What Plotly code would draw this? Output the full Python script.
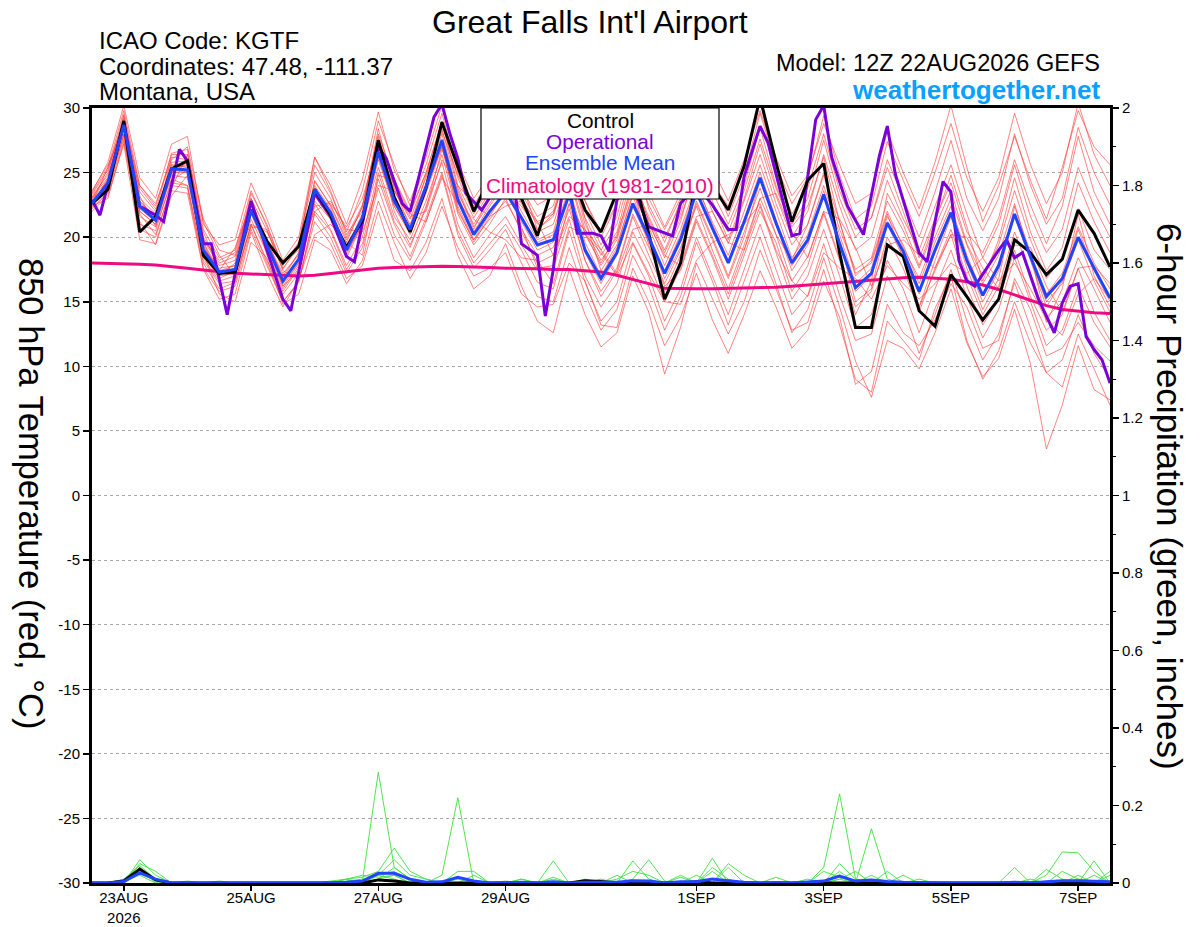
import pandas as pd
import plotly.graph_objects as go

# ---------------------------------------------------------------- data
RUN_START = "2026-08-22 12:00"
HOURS6 = list(range(0, 385, 6))          # 6-hourly forecast hours (65)

# Control run 850 hPa temperature (C), 6-hourly
CONTROL_T = [
    22.6, 23.7, 29.0, 20.4,
    21.6, 25.3, 25.9, 18.6,
    17.2, 17.3, 22.1, 19.7,
    18.0, 19.3, 23.7, 21.7,
    19.2, 21.3, 27.5, 23.1,
    20.4, 23.8, 28.9, 25.5,
    22.0, 24.5, 26.0, 23.0,
    20.1, 24.0, 25.5, 22.1,
    20.4, 23.5, 25.0, 20.3,
    15.2, 18.0, 24.5, 24.0,
    22.1, 25.5, 30.8, 25.8,
    21.2, 24.4, 25.7, 18.8,
    13.0, 13.0, 19.4, 18.5,
    14.3, 13.1, 17.1, 15.4,
    13.6, 15.2, 19.8, 18.8,
    17.1, 18.3, 22.1, 20.3,
    17.7,
]

# Ensemble mean 850 hPa temperature (C), 6-hourly
MEAN_T = [
    22.6, 24.2, 28.7, 22.4,
    21.3, 25.3, 25.2, 19.0,
    17.3, 17.5, 22.1, 19.3,
    16.6, 18.3, 23.7, 21.9,
    19.0, 21.5, 26.6, 22.8,
    20.6, 23.9, 27.5, 22.9,
    20.2, 22.0, 23.5, 21.5,
    19.4, 19.8, 23.3, 19.0,
    16.8, 18.8, 22.6, 20.0,
    17.2, 19.8, 23.5, 20.7,
    18.0, 21.2, 24.6, 21.1,
    18.0, 19.8, 23.3, 19.5,
    16.1, 17.2, 21.1, 18.9,
    15.8, 19.0, 21.9, 18.2,
    15.5, 17.8, 21.8, 18.5,
    15.4, 16.8, 20.0, 17.6,
    15.3,
]

# Operational run (3-hourly where it bends)
OP_HOURS = [
    0, 3, 12, 18, 24, 27, 33, 36, 42, 45,
    51, 54, 60, 72, 75, 84, 90, 96, 99, 108,
    111, 117, 120, 129, 132, 135, 138, 141, 147, 153,
    159, 162, 168, 171, 174, 177, 180, 183, 189, 192,
    195, 198, 204, 210, 219, 222, 228, 234, 240, 243,
    246, 252, 255, 264, 267, 273, 276, 279, 285, 291,
    297, 300, 303, 312, 315, 321, 324, 327, 330, 333,
    342, 345, 348, 351, 357, 363, 366, 369, 372, 375,
    378, 381, 384,
]
OP_T = [
    22.9, 21.7, 28.8, 22.4, 21.7, 21.2, 26.8, 25.9, 19.5, 19.5,
    14.0, 17.2, 22.8, 15.2, 14.3, 23.4, 21.6, 18.5, 18.1, 27.0,
    26.1, 22.6, 22.0, 29.3, 30.3, 28.0, 26.1, 23.4, 22.1, 24.0,
    24.5, 19.5, 18.6, 13.9, 17.5, 23.0, 24.0, 20.3, 20.3, 20.1,
    18.9, 22.9, 24.0, 20.8, 20.1, 22.6, 24.0, 22.5, 20.6, 20.6,
    24.7, 28.6, 27.3, 20.1, 20.3, 29.1, 30.2, 26.2, 22.4, 20.2,
    26.3, 28.6, 24.9, 18.8, 18.1, 24.3, 23.5, 18.2, 16.6, 16.2,
    19.0, 19.8, 18.4, 18.8, 15.2, 12.6, 14.9, 16.2, 16.4, 12.3,
    11.3, 10.5, 8.7,
]

# Climatology (1981-2010), 6-hourly
CLIMO_T = [
    18.0, 17.98, 17.95, 17.9,
    17.85, 17.75, 17.6, 17.45,
    17.3, 17.2, 17.15, 17.1,
    17.05, 17.0, 17.05, 17.2,
    17.35, 17.5, 17.6, 17.65,
    17.7, 17.72, 17.75, 17.72,
    17.7, 17.65, 17.6, 17.6,
    17.55, 17.5, 17.5, 17.4,
    17.3, 17.05, 16.75, 16.4,
    16.05, 16.0, 16.0, 16.0,
    16.02, 16.05, 16.08, 16.12,
    16.2, 16.3, 16.4, 16.5,
    16.6, 16.7, 16.8, 16.85,
    16.9, 16.85, 16.75, 16.55,
    16.3, 15.95, 15.55, 15.15,
    14.7, 14.4, 14.25, 14.15,
    14.1,
]

# Ensemble members 850 hPa temperature (C), 6-hourly
MEMBER_01 = [23.0, 25.0, 29.5, 23.5, 22.0, 26.5, 26.8, 20.0, 18.0, 18.5, 23.0, 20.5, 17.5, 19.5, 25.0, 23.0,
             20.0, 22.5, 28.0, 24.5, 22.0, 25.0, 29.0, 24.0, 21.5, 23.5, 25.5, 23.0, 21.0, 22.0, 26.0, 21.5,
             19.0, 21.0, 25.5, 22.5, 20.0, 22.5, 27.0, 23.5, 21.0, 24.0, 28.5, 24.0, 21.0, 23.0, 27.5, 23.0,
             20.0, 21.5, 26.0, 23.0, 20.0, 23.5, 27.5, 23.0, 20.5, 23.0, 28.0, 24.0, 21.0, 23.0, 28.5, 25.0, 22.5]
MEMBER_02 = [22.3, 23.5, 28.0, 21.0, 20.5, 24.5, 24.0, 18.0, 16.0, 16.5, 21.0, 18.0, 15.0, 16.5, 22.0, 20.5,
             17.5, 19.5, 24.5, 21.0, 18.5, 21.5, 25.0, 20.5, 18.0, 19.5, 21.0, 19.0, 16.5, 16.0, 20.5, 16.5,
             13.5, 15.0, 19.5, 17.0, 13.5, 16.0, 20.0, 17.0, 14.0, 17.5, 21.0, 17.5, 14.0, 15.5, 19.5, 15.5,
             12.0, 12.5, 17.0, 14.5, 11.0, 14.0, 17.5, 13.5, 10.5, 12.5, 16.5, 13.0, 9.5, 10.5, 14.0, 11.0, 9.0]
MEMBER_03 = [23.2, 24.8, 28.9, 23.0, 21.8, 25.8, 25.9, 19.8, 17.8, 18.2, 22.8, 19.8, 16.8, 18.8, 24.3, 22.5,
             19.8, 22.3, 27.6, 23.6, 21.4, 24.6, 28.4, 23.8, 20.8, 22.6, 24.4, 22.0, 19.8, 20.4, 24.6, 20.2,
             18.0, 20.2, 24.0, 21.4, 18.8, 21.5, 25.2, 22.0, 19.5, 22.8, 26.4, 22.6, 19.4, 21.0, 24.8, 20.6,
             17.5, 18.4, 22.8, 20.5, 17.6, 20.8, 23.6, 19.5, 17.0, 19.4, 23.6, 19.8, 16.8, 18.4, 22.2, 19.0, 17.5]
MEMBER_04 = [22.0, 23.2, 27.2, 19.8, 19.5, 23.6, 23.4, 17.5, 15.2, 15.6, 20.4, 17.2, 14.6, 16.7, 21.2, 19.5,
             16.8, 17.8, 22.0, 18.2, 17.4, 19.6, 23.0, 18.6, 16.0, 17.0, 19.5, 16.2, 13.5, 12.6, 17.5, 14.0,
             11.5, 12.6, 17.0, 14.2, 9.4, 13.0, 18.0, 15.2, 12.5, 15.0, 19.0, 16.0, 12.8, 13.4, 17.5, 13.2,
             9.0, 8.0, 13.5, 12.0, 10.5, 14.5, 17.0, 12.0, 9.0, 11.2, 15.0, 11.8, 9.5, 8.4, 12.5, 9.8, 7.0]
MEMBER_05 = [23.5, 25.8, 30.2, 24.6, 23.0, 27.2, 27.8, 21.0, 19.4, 19.8, 24.2, 21.4, 18.2, 20.0, 26.2, 24.0,
             21.0, 24.5, 29.7, 25.2, 22.8, 26.2, 30.2, 25.8, 23.0, 24.8, 26.8, 24.4, 22.5, 23.2, 27.2, 22.8,
             20.0, 22.5, 27.0, 23.5, 20.8, 23.4, 27.6, 24.2, 22.4, 25.5, 30.5, 25.0, 21.8, 23.8, 28.0, 23.6,
             20.6, 21.5, 25.4, 22.0, 18.4, 21.4, 24.2, 20.4, 18.8, 21.5, 26.0, 22.5, 19.5, 22.4, 27.8, 23.5, 21.0]
MEMBER_06 = [22.8, 24.0, 28.3, 22.0, 21.0, 24.8, 24.6, 18.4, 16.6, 17.0, 21.4, 18.8, 16.0, 17.8, 23.2, 21.4,
             18.8, 21.0, 26.0, 22.4, 20.4, 23.6, 27.2, 22.4, 19.8, 21.4, 22.8, 20.6, 18.6, 19.2, 22.6, 18.2,
             15.8, 17.6, 21.8, 19.2, 16.4, 19.0, 22.8, 20.0, 17.0, 20.4, 23.8, 20.2, 16.6, 18.5, 22.0, 18.4,
             14.6, 15.8, 20.0, 17.6, 14.2, 17.6, 20.6, 17.0, 14.0, 16.2, 20.4, 17.2, 13.8, 15.0, 18.4, 16.0, 13.4]
MEMBER_07 = [22.4, 24.6, 29.2, 22.8, 21.4, 25.6, 25.4, 19.4, 17.0, 17.2, 22.4, 19.6, 17.0, 18.8, 24.0, 22.2,
             19.2, 21.8, 27.0, 23.2, 21.0, 24.2, 28.0, 23.4, 21.0, 23.0, 25.0, 22.6, 20.4, 21.0, 24.8, 20.6,
             18.2, 20.0, 24.4, 21.6, 19.0, 21.8, 26.0, 22.8, 19.8, 23.0, 27.2, 23.2, 20.0, 22.0, 26.4, 22.4,
             19.0, 20.0, 24.4, 21.4, 19.0, 22.4, 25.6, 21.8, 18.4, 21.0, 25.6, 21.6, 18.8, 20.6, 25.4, 22.4, 20.0]
MEMBER_08 = [22.9, 23.9, 28.0, 21.6, 20.8, 24.2, 24.0, 18.2, 16.4, 16.6, 21.0, 18.2, 15.6, 17.2, 22.6, 20.6,
             17.8, 20.0, 25.0, 21.2, 19.2, 22.4, 25.8, 21.0, 18.4, 20.2, 21.6, 19.4, 17.4, 17.6, 21.4, 17.0,
             14.6, 16.4, 20.4, 18.0, 15.0, 17.6, 21.4, 18.6, 15.6, 19.0, 22.4, 18.8, 15.2, 17.0, 20.6, 17.0,
             13.0, 14.0, 18.2, 16.0, 12.6, 16.0, 19.0, 15.4, 12.2, 14.4, 18.4, 15.0, 11.6, 12.8, 16.2, 13.4, 11.5]
MEMBER_09 = [23.0, 24.4, 28.6, 22.6, 21.6, 25.0, 25.0, 19.2, 17.6, 17.8, 22.2, 19.4, 16.4, 18.0, 23.4, 21.6,
             19.4, 21.6, 26.4, 22.6, 20.8, 23.8, 27.0, 22.2, 19.6, 21.6, 23.6, 22.4, 20.6, 21.8, 25.6, 21.4,
             17.4, 19.4, 23.2, 19.8, 16.8, 19.2, 22.4, 19.0, 16.0, 19.4, 23.0, 20.2, 18.2, 21.0, 25.0, 21.2,
             17.0, 18.2, 22.0, 19.2, 16.8, 20.0, 23.0, 19.4, 16.4, 18.6, 22.6, 18.4, 15.0, 16.4, 19.8, 16.6, 14.2]
MEMBER_10 = [23.4, 25.4, 29.8, 24.0, 22.4, 26.4, 26.4, 20.6, 18.4, 19.0, 23.6, 20.8, 17.8, 19.6, 25.6, 23.4,
             20.4, 23.6, 29.0, 25.6, 22.4, 25.6, 29.6, 25.0, 22.0, 24.0, 26.2, 23.8, 21.6, 22.4, 26.6, 22.0,
             19.4, 21.6, 26.2, 23.0, 20.6, 23.0, 27.8, 24.6, 21.6, 24.8, 29.6, 25.6, 22.6, 24.6, 29.4, 24.8,
             21.4, 22.4, 27.4, 24.4, 21.6, 25.0, 28.8, 24.6, 22.0, 24.6, 29.6, 25.6, 22.6, 25.0, 30.4, 26.4, 24.0]
MEMBER_11 = [22.2, 23.4, 27.6, 20.6, 20.0, 24.0, 23.8, 17.6, 15.8, 16.2, 20.6, 17.8, 15.0, 16.6, 21.8, 20.0,
             17.2, 19.2, 23.8, 20.2, 18.2, 21.2, 24.8, 20.2, 17.6, 19.0, 20.6, 18.0, 15.4, 15.0, 19.2, 15.6,
             12.8, 14.4, 18.6, 16.2, 12.8, 15.4, 19.6, 16.6, 13.2, 16.6, 20.0, 16.4, 12.6, 14.4, 18.4, 14.6,
             10.4, 7.6, 12.0, 11.4, 9.8, 12.6, 16.0, 11.8, 9.2, 10.6, 14.4, 10.2, 3.6, 7.0, 11.6, 8.2, 7.4]
MEMBER_12 = [22.6, 24.0, 28.4, 22.2, 21.2, 25.2, 25.0, 18.6, 16.8, 17.4, 21.8, 19.0, 16.2, 18.0, 23.4, 21.6,
             18.6, 21.2, 26.2, 22.4, 20.2, 23.4, 27.0, 22.0, 19.8, 21.8, 23.4, 21.2, 19.0, 19.6, 23.2, 18.8,
             16.4, 18.6, 22.4, 19.6, 17.4, 20.2, 24.0, 21.2, 18.6, 22.0, 25.6, 22.0, 18.4, 20.2, 24.0, 20.2,
             16.4, 17.6, 21.6, 19.4, 16.4, 19.6, 22.4, 18.6, 15.6, 17.8, 21.8, 18.6, 15.6, 17.2, 20.8, 18.0, 16.0]
MEMBER_13 = [23.1, 24.6, 28.8, 22.4, 21.4, 25.4, 25.6, 19.6, 17.4, 17.8, 22.6, 19.6, 17.2, 18.6, 24.4, 22.4,
             19.6, 22.4, 27.8, 24.0, 21.8, 25.0, 28.8, 24.6, 21.8, 23.8, 25.8, 23.4, 21.2, 21.8, 25.6, 21.0,
             18.6, 20.4, 25.0, 21.2, 18.4, 21.2, 25.6, 22.4, 20.4, 23.6, 27.6, 23.8, 20.8, 22.4, 26.2, 21.2,
             17.2, 18.0, 21.8, 18.4, 14.6, 17.4, 20.2, 16.2, 13.2, 15.2, 19.0, 15.4, 12.8, 14.0, 17.6, 14.2, 12.0]
MEMBER_14 = [22.7, 24.2, 28.6, 22.8, 21.6, 25.6, 25.4, 19.0, 17.2, 17.6, 22.0, 19.2, 16.6, 18.4, 23.8, 22.0,
             19.0, 21.4, 26.6, 23.0, 20.6, 23.8, 27.6, 23.2, 20.4, 22.4, 24.2, 21.6, 19.6, 20.2, 23.8, 19.6,
             17.0, 19.2, 23.4, 20.8, 17.8, 20.6, 24.2, 21.0, 18.2, 21.4, 25.0, 21.4, 17.8, 19.6, 23.2, 19.4,
             15.8, 17.0, 21.0, 18.4, 15.6, 18.8, 21.8, 18.0, 15.0, 17.4, 21.6, 18.2, 14.6, 16.6, 20.6, 17.4, 15.0]
MEMBER_15 = [23.3, 25.2, 29.0, 24.0, 22.6, 26.0, 27.0, 21.4, 19.0, 18.6, 21.0, 20.4, 18.0, 19.0, 22.0, 22.8,
             20.6, 20.4, 24.0, 23.6, 21.6, 22.0, 26.0, 24.0, 22.6, 21.6, 22.4, 22.8, 21.2, 18.6, 21.6, 20.6,
             19.0, 17.2, 20.6, 21.0, 18.6, 17.8, 21.6, 22.0, 19.6, 19.0, 23.0, 23.4, 20.4, 18.4, 22.0, 21.4,
             19.2, 16.2, 19.4, 19.8, 18.6, 17.6, 20.2, 20.0, 17.6, 16.0, 19.4, 19.2, 16.2, 14.2, 17.6, 17.8, 16.4]
MEMBER_16 = [22.5, 24.4, 29.4, 23.2, 20.8, 25.0, 25.8, 19.8, 18.2, 18.8, 23.0, 19.6, 16.2, 17.4, 22.8, 21.4,
             18.4, 21.0, 25.4, 21.6, 19.8, 22.8, 26.4, 21.8, 19.4, 21.0, 23.0, 20.4, 18.0, 18.6, 22.2, 18.2,
             15.4, 17.4, 21.6, 18.6, 15.8, 18.6, 22.6, 19.8, 16.8, 20.0, 24.4, 21.0, 17.4, 19.4, 23.6, 19.8,
             15.0, 16.0, 21.2, 18.8, 14.6, 18.2, 21.6, 17.6, 14.4, 16.8, 22.4, 18.8, 13.4, 16.0, 21.8, 17.0, 14.6]
MEMBER_17 = [23.0, 24.0, 27.8, 21.8, 20.2, 23.8, 26.4, 21.2, 18.6, 17.0, 20.8, 20.6, 17.4, 16.8, 20.2, 21.0,
             19.6, 18.6, 24.8, 24.4, 21.8, 21.2, 24.6, 22.6, 21.4, 20.4, 19.8, 18.4, 18.2, 16.4, 20.8, 20.2,
             18.8, 17.0, 19.6, 17.2, 15.0, 14.8, 18.2, 19.6, 20.2, 21.0, 22.6, 19.0, 16.6, 15.4, 18.8, 17.6,
             16.8, 15.2, 17.8, 16.4, 15.2, 16.4, 18.0, 17.2, 18.4, 16.6, 18.0, 16.0, 13.6, 12.4, 15.6, 16.8, 15.2]
MEMBER_18 = [22.6, 25.4, 29.0, 22.0, 21.0, 26.2, 26.0, 19.6, 17.0, 18.0, 23.4, 21.0, 17.6, 19.2, 26.2, 23.6,
             20.2, 22.0, 28.4, 23.8, 20.8, 24.8, 28.2, 24.8, 22.4, 24.6, 27.2, 24.2, 20.6, 21.6, 25.8, 22.8,
             20.4, 22.6, 26.8, 22.2, 19.6, 22.8, 28.2, 25.4, 22.8, 26.0, 29.8, 26.2, 23.2, 24.8, 28.8, 25.6,
             22.6, 23.4, 28.2, 25.0, 22.2, 25.8, 30.2, 25.4, 21.2, 24.0, 27.8, 24.4, 21.4, 25.4, 29.8, 27.0, 25.6]
MEMBER_19 = [22.4, 23.0, 27.4, 21.2, 19.4, 23.2, 24.8, 18.8, 15.6, 15.0, 19.6, 18.4, 14.8, 15.6, 19.8, 19.0,
             16.4, 18.2, 22.8, 19.6, 16.8, 18.8, 22.4, 19.2, 17.0, 17.6, 18.8, 15.6, 14.6, 14.8, 18.0, 16.6,
             13.2, 13.0, 17.6, 15.0, 11.6, 13.8, 17.2, 13.6, 11.0, 14.0, 17.4, 14.6, 11.4, 12.8, 16.6, 13.8,
             8.6, 9.6, 14.8, 12.6, 11.6, 13.6, 16.4, 14.6, 11.4, 12.0, 16.8, 14.4, 10.8, 11.4, 13.4, 11.6, 10.4]
MEMBER_20 = [23.6, 25.6, 28.2, 23.8, 22.2, 24.4, 25.2, 20.4, 17.4, 19.2, 22.6, 18.6, 15.8, 17.6, 22.4, 22.6,
             20.8, 23.0, 27.2, 22.0, 19.4, 22.2, 26.8, 23.6, 20.6, 23.2, 24.8, 20.8, 17.6, 17.8, 22.6, 20.4,
             17.8, 19.8, 23.8, 19.4, 16.2, 17.4, 21.2, 18.4, 15.2, 18.6, 22.0, 19.6, 15.8, 17.8, 21.8, 18.2,
             14.0, 16.6, 23.4, 21.0, 17.8, 21.2, 24.8, 20.8, 16.6, 19.8, 24.6, 20.4, 17.4, 19.2, 24.2, 21.2, 18.8]
MEMBERS_T = [MEMBER_01, MEMBER_02, MEMBER_03, MEMBER_04, MEMBER_05, MEMBER_06, MEMBER_07, MEMBER_08,
             MEMBER_09, MEMBER_10, MEMBER_11, MEMBER_12, MEMBER_13, MEMBER_14, MEMBER_15, MEMBER_16,
             MEMBER_17, MEMBER_18, MEMBER_19, MEMBER_20]

# 6-hour precipitation (inches), 6-hourly
PRECIP_01 = [0, 0, 0, 0.06, 0.02, 0, 0, 0, 0, 0, 0, 0, 0, 0, 0, 0,
             0, 0.005, 0.286, 0.04, 0.01, 0, 0, 0, 0, 0, 0, 0, 0, 0, 0, 0,
             0, 0, 0.057, 0.01, 0, 0, 0, 0.04, 0.01, 0, 0, 0, 0, 0, 0.04, 0.23,
             0.01, 0, 0, 0, 0, 0, 0, 0, 0, 0, 0, 0, 0.02, 0.08, 0.078, 0.03, 0]
PRECIP_02 = [0, 0, 0, 0.05, 0.03, 0, 0, 0, 0, 0, 0, 0, 0, 0, 0, 0,
             0.01, 0.015, 0.03, 0.09, 0.03, 0.01, 0, 0, 0, 0, 0, 0, 0, 0, 0, 0,
             0, 0.01, 0.03, 0.02, 0, 0, 0, 0.03, 0, 0, 0, 0, 0, 0, 0, 0.05,
             0.01, 0, 0, 0.02, 0, 0, 0, 0, 0, 0, 0, 0, 0.035, 0.01, 0, 0.02, 0]
PRECIP_03 = [0, 0, 0.01, 0.045, 0.01, 0, 0.005, 0, 0, 0, 0, 0, 0, 0, 0, 0,
             0, 0, 0.02, 0.06, 0.02, 0.01, 0, 0, 0.02, 0, 0, 0, 0, 0.015, 0, 0,
             0, 0, 0.01, 0.06, 0.005, 0, 0, 0, 0.05, 0.02, 0, 0, 0, 0, 0, 0.03,
             0, 0, 0, 0, 0.01, 0, 0, 0, 0, 0, 0, 0, 0, 0.03, 0.01, 0, 0.02]
PRECIP_04 = [0, 0, 0, 0.035, 0, 0, 0, 0, 0.005, 0, 0, 0, 0, 0, 0, 0,
             0, 0, 0.01, 0.04, 0.01, 0, 0, 0, 0, 0, 0, 0.01, 0, 0, 0, 0,
             0.005, 0, 0, 0, 0, 0.02, 0, 0, 0, 0, 0, 0.015, 0, 0, 0, 0.01,
             0.03, 0, 0, 0, 0, 0, 0, 0, 0, 0, 0, 0.01, 0, 0, 0.02, 0, 0]
PRECIP_05 = [0, 0, 0, 0.03, 0.01, 0, 0, 0, 0, 0, 0, 0, 0, 0, 0, 0.005,
             0.01, 0.02, 0.015, 0.02, 0, 0, 0.02, 0.22, 0, 0, 0.005, 0, 0, 0, 0, 0.01,
             0, 0, 0, 0, 0, 0.015, 0, 0, 0, 0, 0, 0, 0, 0.01, 0, 0.02,
             0, 0, 0, 0, 0, 0, 0, 0, 0, 0, 0, 0, 0, 0, 0, 0.057, 0]
PRECIP_06 = [0, 0, 0, 0.025, 0.005, 0, 0, 0, 0, 0, 0, 0, 0, 0, 0, 0,
             0.005, 0.01, 0.02, 0.03, 0.005, 0, 0, 0.03, 0.03, 0, 0, 0, 0, 0, 0, 0,
             0.01, 0, 0, 0, 0, 0, 0.02, 0, 0, 0, 0, 0, 0, 0, 0.03, 0.015,
             0, 0.14, 0.01, 0, 0, 0, 0, 0, 0, 0, 0, 0, 0, 0, 0.01, 0.005, 0]
PRECIP_07 = [0, 0, 0, 0.04, 0.01, 0, 0, 0, 0, 0, 0, 0, 0, 0, 0, 0,
             0, 0, 0.01, 0.02, 0, 0, 0, 0, 0, 0, 0, 0.01, 0, 0.057, 0, 0,
             0, 0, 0, 0, 0, 0, 0, 0.064, 0, 0, 0, 0, 0, 0, 0, 0.01,
             0, 0.02, 0, 0, 0, 0, 0, 0, 0, 0, 0.04, 0, 0, 0, 0, 0, 0]
PRECIP_08 = [0, 0, 0.005, 0.02, 0, 0, 0, 0, 0, 0, 0, 0, 0, 0, 0, 0,
             0.01, 0, 0.02, 0.01, 0, 0, 0, 0.01, 0, 0, 0, 0, 0, 0.01, 0, 0,
             0, 0.02, 0, 0, 0, 0, 0, 0, 0.04, 0, 0, 0, 0, 0, 0, 0,
             0, 0, 0.03, 0, 0, 0, 0, 0, 0, 0, 0, 0, 0, 0, 0, 0, 0.03]
MEMBERS_P = [PRECIP_01, PRECIP_02, PRECIP_03, PRECIP_04, PRECIP_05, PRECIP_06, PRECIP_07, PRECIP_08]

CONTROL_P = [0, 0, 0.005, 0.036, 0.008, 0, 0, 0, 0, 0, 0, 0, 0, 0, 0, 0,
             0, 0, 0.008, 0.005, 0, 0, 0, 0, 0, 0, 0, 0, 0, 0, 0, 0.006,
             0.004, 0, 0, 0, 0, 0, 0.003, 0, 0, 0, 0, 0, 0, 0, 0, 0,
             0, 0, 0, 0, 0, 0, 0, 0, 0, 0, 0, 0, 0, 0, 0, 0, 0]
MEAN_P = [0, 0, 0.004, 0.026, 0.01, 0, 0, 0, 0, 0, 0, 0, 0, 0, 0, 0,
          0.002, 0.005, 0.025, 0.025, 0.01, 0.002, 0.003, 0.015, 0.005, 0, 0, 0.002, 0, 0.003, 0, 0.002,
          0.002, 0.002, 0.006, 0.005, 0, 0.003, 0.003, 0.01, 0.006, 0.002, 0, 0.001, 0, 0.002, 0.005, 0.018,
          0.005, 0.008, 0.004, 0.002, 0.001, 0, 0, 0, 0, 0, 0.002, 0, 0.003, 0.006, 0.006, 0.005, 0.003]

TICK_DATES = ["2026-08-23", "2026-08-25", "2026-08-27", "2026-08-29",
              "2026-09-01", "2026-09-03", "2026-09-05", "2026-09-07"]
TICK_LABELS = ["23AUG<br>2026", "25AUG", "27AUG", "29AUG", "1SEP", "3SEP", "5SEP", "7SEP"]
T_TICKS = list(range(-30, 31, 5))
T_LABELS = [str(v) for v in T_TICKS]
P_TICKS = [0, 0.2, 0.4, 0.6, 0.8, 1, 1.2, 1.4, 1.6, 1.8, 2]
P_LABELS = ["0", "0.2", "0.4", "0.6", "0.8", "1", "1.2", "1.4", "1.6", "1.8", "2"]

# ---------------------------------------------------------------- build
base = pd.Timestamp(RUN_START)
t6 = [base + pd.Timedelta(hours=h) for h in HOURS6]
t_op = [base + pd.Timedelta(hours=h) for h in OP_HOURS]

FONT = "Liberation Sans, Arial, Helvetica, sans-serif"
RED = "rgba(255,55,55,0.72)"
GREEN = "#3ee03e"
PURPLE = "#7b00d8"
BLUE = "#2044ff"
PINK = "#ee0a80"

fig = go.Figure()
for m in MEMBERS_T:
    fig.add_trace(go.Scatter(x=t6, y=m, mode="lines", line=dict(color=RED, width=0.85),
                             hoverinfo="skip"))
fig.add_trace(go.Scatter(x=t6, y=CLIMO_T, mode="lines", line=dict(color=PINK, width=3)))
fig.add_trace(go.Scatter(x=t_op, y=OP_T, mode="lines", line=dict(color=PURPLE, width=3)))
fig.add_trace(go.Scatter(x=t6, y=CONTROL_T, mode="lines", line=dict(color="black", width=3)))
fig.add_trace(go.Scatter(x=t6, y=MEAN_T, mode="lines", line=dict(color=BLUE, width=3)))

for p in MEMBERS_P:
    fig.add_trace(go.Scatter(x=t6, y=p, yaxis="y2", mode="lines",
                             line=dict(color=GREEN, width=0.9)))
fig.add_trace(go.Scatter(x=t6, y=CONTROL_P, yaxis="y2", mode="lines",
                         line=dict(color="black", width=3)))
fig.add_trace(go.Scatter(x=t6, y=MEAN_P, yaxis="y2", mode="lines",
                         line=dict(color=BLUE, width=3)))

# the page's default body margin is removed (post_script below): figure at (0, 0)
W, H = 1200, 927
PLOT_L, PLOT_R, PLOT_T, PLOT_B = 92, 1110, 108, 883   # page pixels
L, R, T, B = PLOT_L, W - PLOT_R, PLOT_T, H - PLOT_B
PW, PH = PLOT_R - PLOT_L, PLOT_B - PLOT_T


def px(x):
    return (x - PLOT_L) / PW


def py(y):
    return (PLOT_B - y) / PH


fig.update_layout(
    width=W, height=H,
    margin=dict(l=L, r=R, t=T, b=B, pad=0, autoexpand=False),
    paper_bgcolor="white", plot_bgcolor="white",
    showlegend=False,
    hovermode=False,
    font=dict(family=FONT, color="black", size=15),
    xaxis=dict(
        type="date", automargin=False,
        range=[base, base + pd.Timedelta(hours=384)],
        tickvals=TICK_DATES, ticktext=TICK_LABELS,
        ticks="outside", ticklen=5, tickwidth=1.5, tickcolor="black",
        ticklabelstandoff=-6,
        showline=True, linewidth=3, linecolor="black", mirror=True,
        showgrid=False, zeroline=False,
        tickfont=dict(size=15, family=FONT),
    ),
    yaxis=dict(
        range=[-30, 30], automargin=False,
        tickvals=T_TICKS, ticktext=T_LABELS,
        ticks="outside", ticklen=6, tickwidth=1.5, tickcolor="black",
        showline=True, linewidth=3, linecolor="black", mirror=True,
        showgrid=True, gridcolor="#a8a8a8", gridwidth=1, griddash="dot",
        zeroline=False,
        tickfont=dict(size=15, family=FONT),
    ),
    yaxis2=dict(
        overlaying="y", side="right", automargin=False,
        range=[0, 2],
        tickvals=P_TICKS, ticktext=P_LABELS,
        ticks="outside", ticklen=6, tickwidth=1.5, tickcolor="black",
        minor=dict(dtick=0.1, ticks="outside", ticklen=3, tickcolor="black", tickwidth=1),
        showline=True, linewidth=3, linecolor="black",
        showgrid=False, zeroline=False,
        tickfont=dict(size=15, family=FONT),
    ),
)

# legend box
fig.add_shape(type="rect", xref="paper", yref="paper",
              x0=px(481), x1=px(719), y0=py(199), y1=py(108),
              fillcolor="white", line=dict(color="black", width=1.2), layer="above")

ann = [
    dict(text="Great Falls Int'l Airport", x=px(590), y=py(22), size=32, color="black", xa="center"),
    dict(text="ICAO Code: KGTF", x=px(97), y=py(40), size=24, color="black", xa="left"),
    dict(text="Coordinates: 47.48, -111.37", x=px(97), y=py(66), size=24, color="black", xa="left"),
    dict(text="Montana, USA", x=px(97), y=py(92), size=24, color="black", xa="left"),
    dict(text="Model: 12Z 22AUG2026 GEFS", x=px(1102), y=py(63), size=23.5, color="black", xa="right"),
    dict(text="<b>weathertogether.net</b>", x=px(1102), y=py(90), size=26, color="#0aa0ff", xa="right"),
    dict(text="Control", x=px(600), y=py(121), size=20.8, color="black", xa="center"),
    dict(text="Operational", x=px(600), y=py(142), size=20.8, color=PURPLE, xa="center"),
    dict(text="Ensemble Mean", x=px(600), y=py(163), size=20.8, color=BLUE, xa="center"),
    dict(text="Climatology (1981-2010)", x=px(600), y=py(185), size=20.8, color=PINK, xa="center"),
]
for a in ann:
    fig.add_annotation(text=a["text"], x=a["x"], y=a["y"], xref="paper", yref="paper",
                       xanchor=a["xa"], yanchor="middle", showarrow=False,
                       font=dict(size=a["size"], color=a["color"], family=FONT))

fig.add_annotation(text="850 hPa Temperature (red, \u00b0C)", x=px(31), y=py(493),
                   xref="paper", yref="paper", textangle=90, showarrow=False,
                   xanchor="center", yanchor="middle",
                   font=dict(size=34.5, family=FONT, color="black"))
fig.add_annotation(text="6-hour Precipitation (green, inches)", x=px(1170), y=py(496),
                   xref="paper", yref="paper", textangle=90, showarrow=False,
                   xanchor="center", yanchor="middle",
                   font=dict(size=35, family=FONT, color="black"))

fig.write_html("out.html",
               config={"displayModeBar": False, "staticPlot": True},
               post_script="document.body.style.margin='0';document.body.style.overflow='hidden';")
